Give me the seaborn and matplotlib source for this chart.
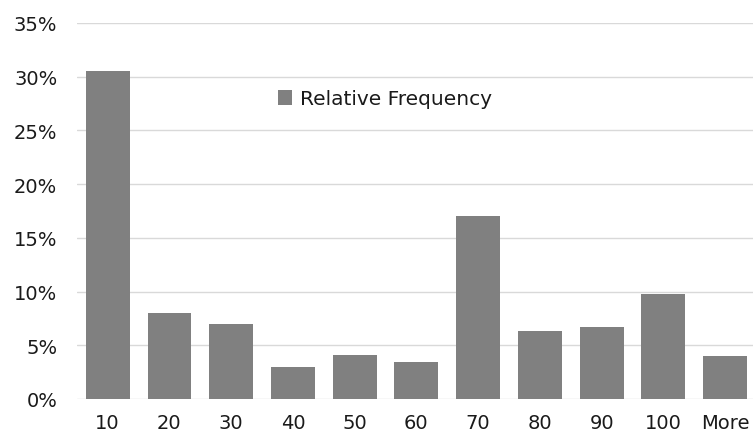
import matplotlib
matplotlib.use("Agg")
import matplotlib.pyplot as plt
import seaborn as sns
import pandas as pd
from matplotlib.ticker import PercentFormatter, MultipleLocator

# Histogram bins and their relative frequencies
bins = ["10", "20", "30", "40", "50", "60", "70", "80", "90", "100", "More"]
rel_freq = [0.305, 0.080, 0.070, 0.030, 0.041, 0.034, 0.170, 0.063, 0.067, 0.098, 0.040]

sns.set_theme(style="white")
plt.rcParams["font.family"] = ["DejaVu Sans"]

df = pd.DataFrame({"bin": bins, "freq": rel_freq})

fig = plt.figure(figsize=(7.53, 4.35), dpi=100)
ax = fig.add_axes([0.102, 0.0805, 0.902, 0.8645])

sns.barplot(data=df, x="bin", y="freq", color="#808080", saturation=1,
            width=0.71, linewidth=0, label="Relative Frequency", ax=ax, zorder=3)

ax.set_ylim(0, 0.35)
ax.yaxis.set_major_locator(MultipleLocator(0.05))
ax.yaxis.set_major_formatter(PercentFormatter(1.0, decimals=0))
ax.grid(axis="y", color="#d9d9d9", linewidth=1.0, zorder=0)
ax.set_axisbelow(True)
for s in ax.spines.values():
    s.set_visible(False)
ax.set_xlabel("")
ax.set_ylabel("")
ax.tick_params(axis="both", length=0, labelsize=14, colors="#1a1a1a")
ax.tick_params(axis="y", pad=14)
ax.tick_params(axis="x", pad=10)

leg = ax.legend(loc="center left", bbox_to_anchor=(278 / 753, 1 - 100 / 435),
                bbox_transform=fig.transFigure, frameon=False, fontsize=14.5,
                handlelength=0.7, handleheight=0.7, handletextpad=0.4,
                borderpad=0, borderaxespad=0)
for t in leg.get_texts():
    t.set_color("#1a1a1a")

fig.savefig("out.png", dpi=100)
